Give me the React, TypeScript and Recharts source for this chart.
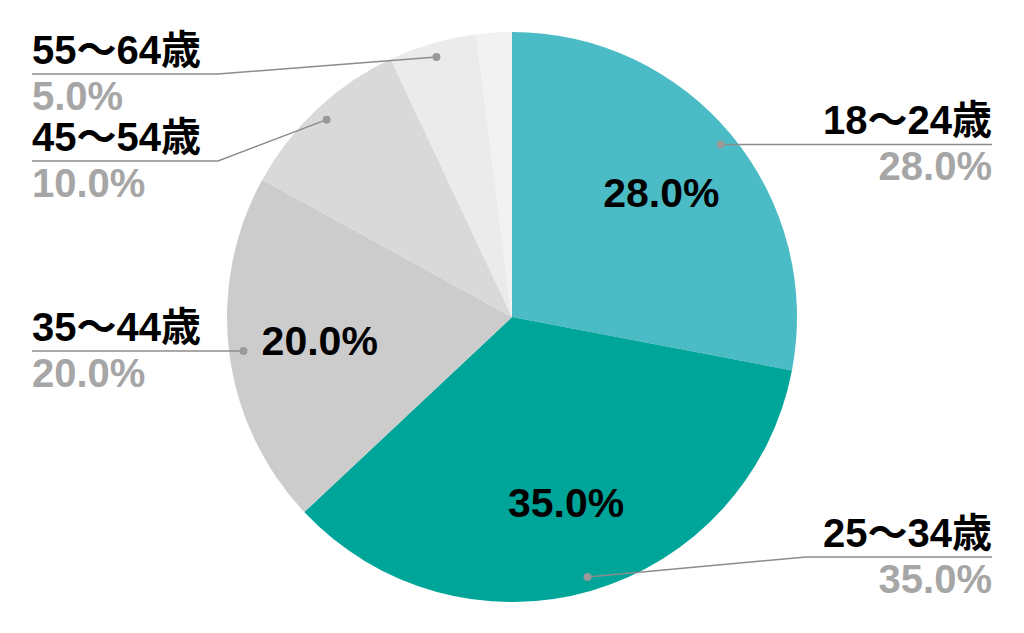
import React from "react";
import { PieChart, Pie, Cell } from "recharts";

const categories = ["18～24歳", "25～34歳", "35～44歳", "45～54歳", "55～64歳", "65歳以上"];
const values = [28, 35, 20, 10, 5, 2];
const colors = ["#4BBCC6", "#00A59A", "#CCCCCC", "#D9D9D9", "#EBEBEB", "#F2F2F2"];
const showOuterLabel = [true, true, true, true, true, false];
const showInnerLabel = [true, true, true, false, false, false];
// label line vertical offset from the pie centre (null = same height as the dot)
const labelLineDy: (number | null)[] = [null, 240, null, -156, -243, null];

const data = categories.map((name, i) => ({ name, value: values[i] }));

const W = 1024;
const H = 633;
const CX = 512;
const CY = 317;
const R = 285;
const FONT = "'Liberation Sans', Arial, 'Noto Sans CJK JP', sans-serif";
const RAD = Math.PI / 180;

const renderLabel = (props: any) => {
  const { cx, cy, midAngle, outerRadius, index, value } = props;
  const cos = Math.cos(-midAngle * RAD);
  const sin = Math.sin(-midAngle * RAD);
  const pct = `${Number(value).toFixed(1)}%`;
  const items: React.ReactNode[] = [];

  if (showInnerLabel[index]) {
    const ir = outerRadius * 0.68;
    items.push(
      <text
        key="in"
        x={cx + ir * cos}
        y={cy + ir * sin}
        textAnchor="middle"
        dominantBaseline="central"
        fontFamily={FONT}
        fontWeight="bold"
        fontSize={41}
        fill="#000"
      >
        {pct}
      </text>
    );
  }

  if (showOuterLabel[index]) {
    const dr = outerRadius * 0.95;
    const dx = cx + dr * cos;
    const dy = cy + dr * sin;
    const right = cos >= 0;
    const dyOff = labelLineDy[index];
    const lineY = dyOff == null ? dy : cy + dyOff;
    const endX = right ? cx + 480 : cx - 480;
    const elbowX = right ? cx + outerRadius + 9 : cx - outerRadius - 9;
    const pts =
      dyOff == null
        ? `${dx},${dy} ${endX},${lineY}`
        : `${dx},${dy} ${elbowX},${lineY} ${endX},${lineY}`;
    const anchor = right ? "end" : "start";
    items.push(
      <g key="out">
        <polyline points={pts} fill="none" stroke="#8C8C8C" strokeWidth={1.5} />
        <circle cx={dx} cy={dy} r={4} fill="#999999" />
        <text
          x={endX}
          y={lineY - 10}
          textAnchor={anchor}
          fontFamily={FONT}
          fontWeight="bold"
          fontSize={40}
          fill="#000"
        >
          {categories[index]}
        </text>
        <text
          x={endX}
          y={lineY + 36}
          textAnchor={anchor}
          fontFamily={FONT}
          fontWeight="bold"
          fontSize={40}
          fill="#A6A6A6"
        >
          {pct}
        </text>
      </g>
    );
  }
  return <g>{items}</g>;
};

export default function App() {
  return (
    <div style={{ position: "absolute", left: 0, top: 0, width: W, height: H, background: "#fff" }}>
      <PieChart width={W} height={H} margin={{ top: 0, right: 0, bottom: 0, left: 0 }}>
        <Pie
          data={data}
          dataKey="value"
          nameKey="name"
          cx={CX}
          cy={CY}
          outerRadius={R}
          startAngle={90}
          endAngle={-270}
          stroke="none"
          label={renderLabel}
          labelLine={false}
          isAnimationActive={false}
        >
          {data.map((_, i) => (
            <Cell key={i} fill={colors[i]} />
          ))}
        </Pie>
      </PieChart>
    </div>
  );
}
